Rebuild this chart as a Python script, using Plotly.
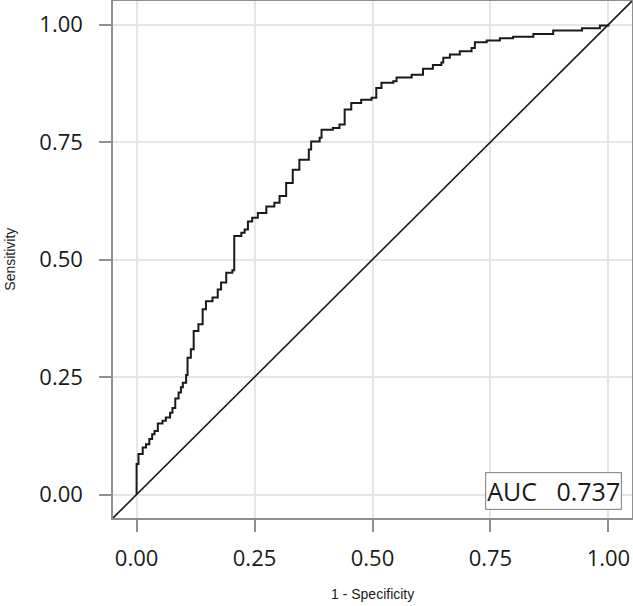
import plotly.graph_objects as go

# ROC points (1 - specificity, sensitivity)
fpr = [0.0, 0.0, 0.004, 0.013, 0.020, 0.027, 0.033, 0.038, 0.045, 0.055, 0.062,
       0.071, 0.076, 0.082, 0.089, 0.094, 0.098, 0.105, 0.108, 0.115, 0.121,
       0.131, 0.140, 0.147, 0.161, 0.172, 0.179, 0.190, 0.203, 0.207, 0.222,
       0.229, 0.236, 0.245, 0.257, 0.275, 0.292, 0.303, 0.317, 0.331, 0.345,
       0.365, 0.370, 0.388, 0.392, 0.416, 0.430, 0.441, 0.455, 0.476, 0.498,
       0.508, 0.519, 0.544, 0.551, 0.583, 0.607, 0.628, 0.646, 0.650, 0.664,
       0.685, 0.710, 0.717, 0.742, 0.770, 0.798, 0.841, 0.883, 0.944, 0.982, 1.0]
tpr = [0.0, 0.065, 0.086, 0.100, 0.107, 0.118, 0.128, 0.135, 0.151, 0.157, 0.164,
       0.174, 0.184, 0.204, 0.217, 0.228, 0.238, 0.254, 0.291, 0.309, 0.348,
       0.362, 0.394, 0.411, 0.419, 0.436, 0.451, 0.472, 0.477, 0.550, 0.557,
       0.564, 0.581, 0.589, 0.599, 0.613, 0.621, 0.635, 0.663, 0.691, 0.712,
       0.734, 0.751, 0.759, 0.776, 0.780, 0.787, 0.819, 0.833, 0.840, 0.844,
       0.865, 0.876, 0.879, 0.887, 0.893, 0.906, 0.914, 0.919, 0.929, 0.936,
       0.943, 0.950, 0.962, 0.966, 0.971, 0.974, 0.980, 0.987, 0.992, 0.998, 1.0]

ticks = [0.0, 0.25, 0.5, 0.75, 1.0]
tick_labels = ["0.00", "0.25", "0.50", "0.75", "1.00"]
auc_label = "AUC&nbsp;&nbsp;&nbsp;0.737"
x_title = "1 - Specificity"
y_title = "Sensitivity"
diag = [-0.05, 1.05]

fig = go.Figure()
fig.add_trace(go.Scatter(x=diag, y=diag, mode="lines",
                         line=dict(color="#1a1a1a", width=1.6),
                         showlegend=False, hoverinfo="skip"))
fig.add_trace(go.Scatter(x=fpr, y=tpr, mode="lines", line_shape="hv",
                         line=dict(color="#1a1a1a", width=2),
                         showlegend=False))

axis_common = dict(
    range=[-0.05, 1.05], tickvals=ticks, ticktext=tick_labels,
    showgrid=True, gridcolor="#e6e6e6", gridwidth=1.5,
    zeroline=False, showline=True, linecolor="#8f8f8f", linewidth=1.5,
    mirror=True, ticks="outside", ticklen=12, tickwidth=1.5,
    tickcolor="#8f8f8f", automargin=False,
    tickfont=dict(family="Open Sans", size=22, color="#1a1a1a"),
)
fig.update_xaxes(**axis_common, ticklabelstandoff=8)
fig.update_yaxes(**axis_common, ticklabelstandoff=12)

fig.add_annotation(x=0.5, y=-0.147, xref="paper", yref="paper",
                   xanchor="center", yanchor="middle", text=x_title,
                   showarrow=False,
                   font=dict(family="Liberation Sans", size=14, color="#1a1a1a"))
fig.add_annotation(x=-0.2, y=0.5, xref="paper", yref="paper",
                   xanchor="center", yanchor="middle", text=y_title,
                   showarrow=False, textangle=-90,
                   font=dict(family="Liberation Sans", size=14, color="#1a1a1a"))

fig.add_annotation(x=1.028, y=-0.032, xref="x", yref="y",
                   xanchor="right", yanchor="bottom", text=auc_label,
                   showarrow=False,
                   font=dict(family="Open Sans", size=25, color="#1a1a1a"),
                   bgcolor="white", bordercolor="#8f8f8f", borderwidth=1.2,
                   borderpad=1)

fig.update_layout(width=633, height=606,
                  margin=dict(l=113, r=1, t=1, b=88),
                  plot_bgcolor="white", paper_bgcolor="white")

fig.write_html("out.html", config={"displayModeBar": False},
               post_script="document.body.style.margin='0px';"
                           "document.body.style.overflow='hidden';")
